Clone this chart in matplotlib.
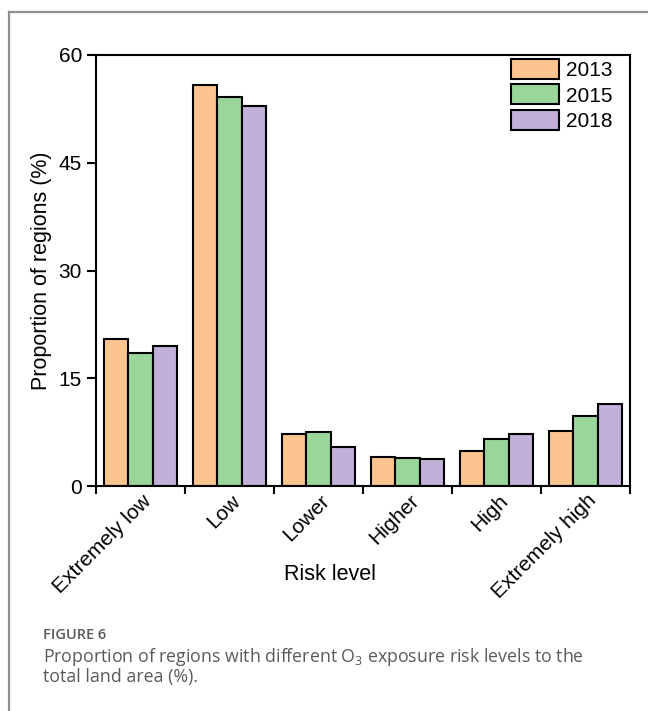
import matplotlib
matplotlib.use("Agg")
import matplotlib.pyplot as plt
import numpy as np
from matplotlib.transforms import ScaledTranslation
from matplotlib.lines import Line2D

categories = ["Extremely low", "Low", "Lower", "Higher", "High", "Extremely high"]
years = ["2013", "2015", "2018"]
v2013 = [20.5, 55.8, 7.3, 4.1, 4.9, 7.6]
v2015 = [18.5, 54.2, 7.5, 3.9, 6.5, 9.7]
v2018 = [19.5, 52.9, 5.4, 3.8, 7.2, 11.4]
colors = ["#FCC48F", "#9AD69A", "#C2B0D8"]
yticks = [0, 15, 30, 45, 60]

plt.rcParams['font.family'] = ['Liberation Sans', 'DejaVu Sans']

W, H = 648, 711
fig = plt.figure(figsize=(W / 100, H / 100), dpi=100)
ax = fig.add_axes([96 / W, 1 - 486 / H, (630 - 96) / W, (486 - 55) / H])

x = np.arange(len(categories))
bw = 0.272
for k, (vals, c, lab) in enumerate(zip([v2013, v2015, v2018], colors, years)):
    ax.bar(x + (k - 1) * bw, vals, width=bw, color=c, edgecolor="black",
           linewidth=1.5, label=lab, zorder=2)

ax.set_xlim(-0.5, len(categories) - 0.5)
ax.set_ylim(0, 60)
ax.set_yticks(yticks)
ax.set_yticklabels([str(v) for v in yticks], fontsize=15)
ax.set_xticks(np.arange(len(categories) + 1) - 0.5)
ax.set_xticklabels([])
ax.set_xticks(x, minor=True)
ax.set_xticklabels(categories, minor=True, rotation=45, ha="right", va="top",
                   fontsize=15)
ax.tick_params(axis="x", which="major", direction="out", length=6, width=1.5)
ax.tick_params(axis="x", which="minor", length=0, pad=3.6)
ax.tick_params(axis="y", direction="out", length=6.5, width=1.5, pad=3.5)
for lbl in ax.xaxis.get_minorticklabels():
    lbl.set_transform(lbl.get_transform() + ScaledTranslation(15 / 100, 0, fig.dpi_scale_trans))
for s in ax.spines.values():
    s.set_linewidth(1.5)

ax.set_ylabel("Proportion of regions (%)", fontsize=15.5, labelpad=5)
fig.text(330 / W, 1 - 580 / H, "Risk level", fontsize=15.5, ha="center", va="baseline")

leg = ax.legend(loc="upper right", bbox_to_anchor=(0.9757, 1.0), frameon=False, fontsize=15,
                handlelength=2.3, handleheight=1.1, labelspacing=0.2,
                handletextpad=0.35, borderaxespad=0.0, borderpad=0.2)
for p in leg.get_patches():
    p.set_linewidth(1.5)

# outer frame
fig.add_artist(Line2D([9 / W, 1], [1 - 12 / H, 1 - 12 / H], color="#8f8f8f", lw=1.6,
                      transform=fig.transFigure))
fig.add_artist(Line2D([9 / W, 9 / W], [0, 1 - 12 / H], color="#8f8f8f", lw=1.6,
                      transform=fig.transFigure))

cap_font = ['Open Sans', 'DejaVu Sans']
plt.rcParams['mathtext.default'] = 'regular'
fig.text(43 / W, 1 - 639 / H, "FIGURE 6", fontsize=10.5, fontweight="semibold",
         color="#5a5a5a", family=cap_font, va="baseline")
fig.text(43 / W, 1 - 662 / H, "Proportion of regions with different O$_3$ exposure risk levels to the",
         fontsize=12.8, color="#5a5a5a", family=cap_font, va="baseline")
fig.text(43 / W, 1 - 682 / H, "total land area (%).",
         fontsize=12.8, color="#5a5a5a", family=cap_font, va="baseline")

fig.savefig("out.png", dpi=100)
